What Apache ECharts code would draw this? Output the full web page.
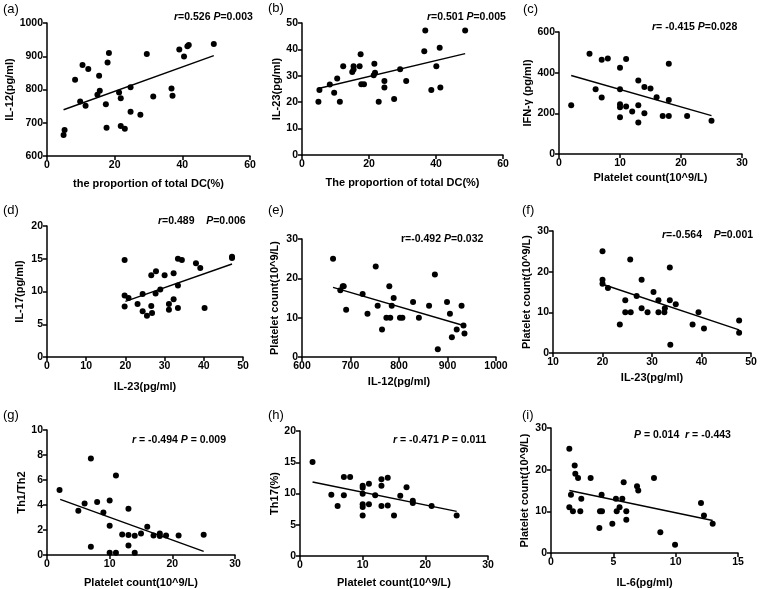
<!DOCTYPE html>
<html><head><meta charset="utf-8">
<script src="https://cdn.jsdelivr.net/npm/echarts@6/dist/echarts.min.js"></script>
<style>html,body{margin:0;padding:0;background:#fff}#c{width:761px;height:589px}</style>
</head><body><div id="c"></div>
<script>
// ---- data ----
const aX=[4.9,5.2,8.3,9.8,10.5,11.4,12.2,15.4,14.9,15.6,17.4,17.6,17.9,18.3,21.3,21.8,21.8,23.0,24.7,24.7,27.6,29.5,31.4,36.8,37.1,39.1,40.5,41.5,41.9,49.3];
const aY=[663,678,829,764,874,751,862,841,784,796,756,685,881,910,791,774,690,682,807,733,724,907,779,803,781,920,899,930,934,937];
const aFitX=[4.9,49.3], aFitY=[739,902];

const bX=[4.9,5.2,8.3,9.6,10.5,11.3,12.3,15.0,15.4,15.4,17.2,17.5,17.7,18.5,21.4,21.6,21.8,22.9,24.6,24.6,27.5,29.3,31.1,36.5,36.8,38.6,40.1,41.1,41.3,48.7];
const bY=[20.2,24.6,26.7,23.6,29.0,20.2,33.6,31.4,33.6,32.4,33.6,38.2,26.8,26.8,30.2,34.6,31.2,20.2,28.0,25.6,21.2,32.5,28.0,39.3,47.2,24.6,33.6,40.6,25.6,47.2];
const bFitX=[4.9,48.7], bFitY=[25.2,38.4];

const cX=[2,5,6,7,7,8,10,10,10,10,10,11,11,12,13,13,13,14,14,15,16,17,18,18,18,21,25];
const cY=[240,493,319,278,464,470,424,319,245,230,181,467,233,209,362,240,155,330,201,322,279,187,187,444,266,187,164];
const cFitX=[2,25], cFitY=[386,189];

const dX=[19.8,19.8,19.8,20.8,23.1,24.4,24.4,25.5,26.6,26.6,26.8,27.7,27.8,28.9,30.0,31.1,31.1,32.3,32.3,33.4,33.4,33.4,34.4,38.0,39.1,40.2,47.2,47.2];
const dY=[14.8,9.4,7.7,9.0,8.1,7.0,9.6,6.3,12.5,7.8,6.7,9.7,13.1,10.3,12.5,8.1,7.2,12.8,8.8,15.0,10.9,7.5,14.8,14.3,13.6,7.5,15.3,15.1];
const dFitX=[20,47.2], dFitY=[8.5,14.2];

const eX=[664,679,684,686,691,725,735,752,756,765,774,780,782,785,789,802,807,829,841,862,874,880,899,905,909,919,929,933,935];
const eY=[25,17,18,18,12,16,11,23,13,7,10,18,10,13,15,10,10,14,10,13,21,2,14,11,5,7,13,8,6];
const eFitX=[664,933], eFitY=[17.7,8.0];

const fX=[20.0,20.0,20.0,21.1,23.5,24.6,24.6,25.7,25.6,26.9,27.9,27.9,29.1,30.3,31.3,31.3,32.5,32.6,33.6,33.6,33.7,34.8,38.2,39.4,40.5,47.6,47.6];
const fY=[25,18,17,16,7,13,10,10,23,14,18,11,10,15,13,10,10,11,21,13,2,12,7,10,6,8,5];
const fFitX=[20,47.6], fFitY=[16.9,5.7];

const gX=[2,5,6,7,7,8,9,10,10,10,11,11,12,13,13,13,14,14,15,16,17,18,18,19,21,25];
const gY=[5.2,3.55,4.13,7.73,0.67,4.24,3.41,4.37,2.35,0.19,0.19,6.37,1.65,3.71,1.6,0.77,1.55,0.19,1.73,2.27,1.57,1.73,1.52,1.57,1.57,1.63];
const gFitX=[2.1,25], gFitY=[4.45,0.29];

const hX=[2,5,6,7,7,8,10,10,10,10,10,10,11,11,12,13,13,13,14,14,15,16,17,18,18,21,25];
const hY=[15.04,9.81,8.0,12.64,9.71,12.64,11.25,10.93,9.97,8.27,7.84,6.5,11.57,8.27,9.71,12.27,11.25,8.0,12.53,8.1,6.5,9.65,10.99,8.85,8.48,8.0,6.5];
const hFitX=[2,25], hFitY=[11.84,7.15];

const iX=[1.47,1.47,1.6,1.76,1.9,1.95,2.17,2.35,2.43,3.18,3.88,3.93,4.09,4.06,4.92,5.21,5.27,5.5,5.72,5.83,6.04,6.04,6.9,7.0,8.26,8.77,9.95,12.03,12.27,12.97];
const iY=[25,11,14,10,21,19,18,10,13,18,6,10,10,14,7,13,10,11,13,17,10,8,16,15,18,5,2,12,9,7];
const iFitX=[1.47,12.97], iFitY=[15.0,7.8];

const panelLabels=['(a)','(b)','(c)','(d)','(e)','(f)','(g)','(h)','(i)'];
const xNames=['the proportion of total DC(%)','The proportion of total DC(%)','Platelet count(10^9/L)','IL-23(pg/ml)','IL-12(pg/ml)','IL-23(pg/ml)','Platelet count(10^9/L)','Platelet count(10^9/L)','IL-6(pg/ml)'];
const yNames=['IL-12(pg/ml)','IL-23(pg/ml)','IFN-γ (pg/ml)','IL-17(pg/ml)','Platelet count(10^9/L)','Platelet count(10^9/L)','Th1/Th2','Th17(%)','Platelet count(10^9/L)'];
const stats=['{i|r}=0.526 {i|P}=0.003','{i|r}=0.501 {i|P}=0.005','{i|r}= -0.415 {i|P}=0.028','{i|r}=0.489    {i|P}=0.006','r=-0.492 {i|P}=0.032','{i|r}=-0.564    {i|P}=0.001','{i|r} = -0.494 {i|P} = 0.009','{i|r} = -0.471 {i|P} = 0.011','{i|P} = 0.014  {i|r} = -0.443'];
const xRanges=[[0,60,20],[0,60,20],[0,30,10],[0,50,10],[600,1000,100],[10,50,10],[0,30,10],[0,30,10],[0,15,5]];
const yRanges=[[600,1000,100],[0,50,10],[0,600,200],[0,20,5],[0,30,10],[0,30,10],[0,10,2],[0,20,5],[0,30,10]];

// ---- layout ----
const panels=[
 {x:aX,y:aY,fx:aFitX,fy:aFitY,grid:[47,23,203,133],yGap:29,xGap:22,lab:[3,10],st:[174,19]},
 {x:bX,y:bY,fx:bFitX,fy:bFitY,grid:[302,23,201,132],yGap:20,xGap:22,lab:[268,9],st:[427,19]},
 {x:cX,y:cY,fx:cFitX,fy:cFitY,grid:[559,32,183,122],yGap:25,xGap:18,lab:[523,10],st:[652,29]},
 {x:dX,y:dY,fx:dFitX,fy:dFitY,grid:[47,226,196,131],yGap:22,xGap:24,lab:[3,211],st:[158,223]},
 {x:eX,y:eY,fx:eFitX,fy:eFitY,grid:[302,239,194,118],yGap:22,xGap:19,lab:[268,211],st:[401,241]},
 {x:fX,y:fY,fx:fFitX,fy:fFitY,grid:[553,231,198,122],yGap:21,xGap:19,lab:[522,211],st:[662,237]},
 {x:gX,y:gY,fx:gFitX,fy:gFitY,grid:[47,430,188,125],yGap:15,xGap:22,lab:[3,416],st:[132,442]},
 {x:hX,y:hY,fx:hFitX,fy:hFitY,grid:[300,431,188,125],yGap:18,xGap:21,lab:[268,416],st:[393,442]},
 {x:iX,y:iY,fx:iFitX,fy:iFitY,grid:[551,428,187,125],yGap:21,xGap:24,lab:[522,416],st:[634,437]}
];

const FONT='"Liberation Sans", Arial, sans-serif';
const axisCommon={
  axisLine:{show:true,onZero:false,lineStyle:{color:'#000',width:1.5}},
  axisTick:{show:true,length:4,lineStyle:{color:'#000',width:1.5}},
  axisLabel:{color:'#000',fontWeight:'bold',fontSize:10.5,fontFamily:FONT,margin:4,formatter:v=>String(v)},
  splitLine:{show:false},
  nameLocation:'middle',
  nameTextStyle:{color:'#000',fontWeight:'bold',fontSize:11,fontFamily:FONT}
};

const grids=[],xAxes=[],yAxes=[],series=[],graphics=[];
panels.forEach((p,k)=>{
  grids.push({left:p.grid[0],top:p.grid[1],width:p.grid[2],height:p.grid[3],containLabel:false});
  xAxes.push(Object.assign({},axisCommon,{type:'value',gridIndex:k,min:xRanges[k][0],max:xRanges[k][1],interval:xRanges[k][2],name:xNames[k],nameGap:p.xGap}));
  yAxes.push(Object.assign({},axisCommon,{type:'value',gridIndex:k,min:yRanges[k][0],max:yRanges[k][1],interval:yRanges[k][2],name:yNames[k],nameGap:p.yGap}));
  series.push({type:'scatter',xAxisIndex:k,yAxisIndex:k,symbol:'circle',symbolSize:6,itemStyle:{color:'#000',opacity:1},
    data:p.x.map((v,j)=>[v,p.y[j]]),silent:true,z:3});
  series.push({type:'line',xAxisIndex:k,yAxisIndex:k,symbol:'none',lineStyle:{color:'#000',width:1.4},
    data:p.fx.map((v,j)=>[v,p.fy[j]]),silent:true,z:2});
  graphics.push({type:'text',left:p.lab[0],top:p.lab[1]-7,style:{text:panelLabels[k],fill:'#000',font:'13px '+FONT}});
  graphics.push({type:'text',left:p.st[0],top:p.st[1]-7,style:{text:stats[k],fill:'#000',
    font:'bold 10.5px '+FONT,rich:{i:{fontStyle:'italic',fontWeight:'bold',fontSize:10.5,fontFamily:FONT,fill:'#000'}}}});
});

const chart=echarts.init(document.getElementById('c'),null,{renderer:'canvas'});
chart.setOption({animation:false,backgroundColor:'#fff',grid:grids,xAxis:xAxes,yAxis:yAxes,series:series,graphic:graphics});
</script>
</body></html>
